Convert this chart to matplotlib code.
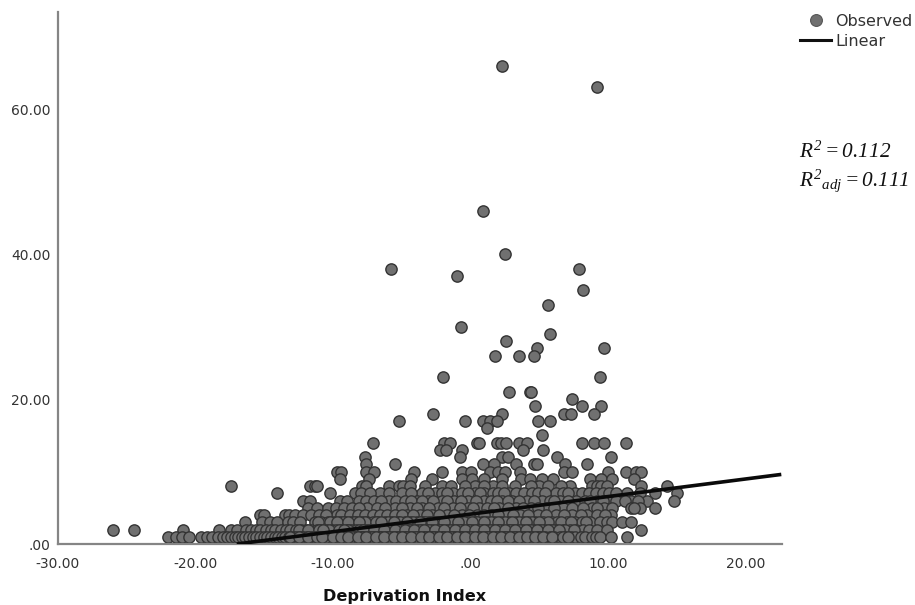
import matplotlib
matplotlib.use("Agg")
import matplotlib.pyplot as plt
from matplotlib.lines import Line2D
import numpy as np

plt.rcParams["mathtext.fontset"] = "custom"
plt.rcParams["mathtext.rm"] = "Liberation Serif:italic"
plt.rcParams["mathtext.it"] = "Liberation Serif:italic"

# x values (deprivation index) of the observed points, grouped by their integer y value
x_high = [2.3, 9.2, 0.9, 2.5, -5.8, -1.0, 7.9, 8.2, 5.6, -0.7, 5.8, 2.6, 9.7, 4.8, 3.5, 1.8, 4.6,
          -2.0, 9.4, 2.8, 4.3, 4.4, 7.4, 9.5, 8.1, 4.7, -2.7, 2.3, 6.8, 7.3, 9.0,
          -5.2, -0.4, 0.9, 1.4, 1.9, 4.9, 5.8, 1.2, 5.2]
y_high = [66, 63, 46, 40, 38, 37, 38, 35, 33, 30, 29, 28, 27, 27, 26, 26, 26,
          23, 23, 21, 21, 21, 20, 19, 19, 19, 18, 18, 18, 18, 18,
          17, 17, 17, 17, 17, 17, 17, 16, 15]

x_14 = [-7.1, -1.9, -1.5, 0.5, 0.6, 1.9, 2.25, 2.6, 3.5, 4.1, 8.1, 9.0, 9.7, 11.3]
x_13 = [-2.25, -1.75, -0.6, 3.85, 5.3]
x_12 = [-7.7, -0.8, 2.3, 2.7, 6.3, 10.2]
x_11 = [-7.6, -5.5, 0.9, 1.7, 3.3, 4.65, 4.8, 6.9, 8.5]
x_10 = [-9.7, -9.4, -7.6, -7.0, -4.1, -2.1, -0.65, 0.0, 1.4, 2.0, 2.5, 3.6, 6.8, 7.4, 10.0, 11.3, 12.0, 12.4]
x_9 = [-9.5, -7.35, -4.3, -2.8, -0.6, 0.1, 1.0, 2.3, 3.7, 4.3, 5.2, 6.0, 8.7, 9.5, 10.3, 11.9]
x_8 = [-17.4, -11.7, -11.3, -11.2, -7.9, -7.6, -5.9, -5.2, -4.9, -4.4, -2.1, -1.4, 0.3, 1.6, 5.0,
       7.2, 8.8, 9.2, 9.5, 9.9, 12.4, 14.3, -3.3, -0.4, 1.0, 2.3, 3.2, 4.4, 5.6, 6.6]
x_7 = [-14.1, -10.25, -8.4, -6.6, -5.9, -3.5, -2.6, -1.3, -0.65, 0.3, 1.0, 1.6, 2.8, 3.3, 3.9, 4.5,
       6.25, 6.7, 7.6, 11.4, 13.4, 15.0, -8.0, -7.3, -5.0, -4.3, -3.1, -2.1, -1.7, -0.2, 0.7, 2.0, 2.4,
       4.9, 5.4, 7.1, 8.1, 8.6, 9.1, 9.6, 10.1, 10.6, 12.3]
x_6 = [-12.2, -11.7, -8.1, -7.6, -5.9, -3.9, -3.1, -2.1, -1.2, -0.2, 1.0, 2.3, 3.0, 4.1, 5.2, 6.5, 7.7,
       9.2, 10.0, 10.6, 11.7, 12.8, 14.8, -9.5, -9.0, -7.0, -6.5, -5.4, -4.8, -4.3, -3.5, -2.7, -1.7,
       -0.7, 0.4, 1.5, 1.9, 2.7, 3.5, 4.6, 5.8, 6.1, 7.1, 8.3, 8.7, 9.6, 11.2, 12.2]
x_5 = [-11.85, -11.2, -10.4, -7.5, -6.8, -5.5, -4.4, -3.5, -2.4, -1.3, -0.2, 0.65, 2.1, 3.3, 4.4, 5.5,
       6.7, 7.4, 8.8, 9.7, 11.7, 12.3, 13.4, -9.8, -9.2, -8.6, -8.1, -6.2, -5.0, -3.9, -3.0, -1.9, -0.8,
       0.2, 1.2, 1.7, 2.7, 3.8, 4.9, 6.1, 8.2, 9.2, 10.3, 11.9]
x_4 = [-15.3, -15.0, -13.5, -13.2, -12.8, -12.2, -9.7, -9.4, -8.8, -8.2, -7.7, -7.1, -6.6, -6.1, -5.5,
       -4.65, -3.7, -2.8, -1.7, -0.6, 0.5, 1.5, 2.6, 3.6, 4.9, 6.25, 7.4, 8.5, 10.25, -11.6, -11.0, -10.5,
       -5.0, -4.2, -3.2, -2.3, -1.2, -0.1, 1.0, 2.0, 3.1, 4.2, 5.5, 6.8, 8.0, 9.2, 9.8]
x_3 = [-16.4, -15.2, -14.6, -14.1, -13.3, -12.9, -12.4, -11.3, -10.9, -10.4, -9.9, -9.5, -9.1, -8.7,
       -8.3, -7.9, -7.5, -7.1, -6.7, -6.2, -5.8, -5.3, -4.8, -4.4, -3.9, -3.5, -3.0, -2.6, -2.1, -1.6,
       -1.2, -0.7, -0.2, 0.3, 0.8, 1.2, 1.7, 2.2, 2.8, 3.3, 3.8, 4.2, 4.7, 5.3, 5.9, 6.3, 7.0, 7.6,
       8.1, 8.7, 9.4, 9.9, 10.3, 11.0, 11.7, -11.1, -10.2, -9.3, -8.5, -7.7, -6.9, -6.0, -5.1, -4.2,
       -3.3, -2.4, -1.4, -0.5, 0.5, 1.5, 2.5, 3.5, 4.5, 5.6, 6.6, 7.3, 8.4,
       -9.7, -8.9, -8.1, -6.5, -5.6, -4.6, -3.7, -2.8, -1.9, -0.9, 0.1, 1.0, 2.0, 3.0, 4.0, 5.0]
x_2 = [-26.0, -24.5, -20.9, -18.3, -17.4, -17.0, -16.3, -16.0, -15.6, -15.3, -14.9, -14.5, -14.2, -13.8,
       -13.4, -13.1, -12.7, -12.3, -12.0, -11.6, -11.2, -10.9, -10.5, -10.1, -9.8, -9.4, -9.0, -8.7,
       -8.3, -7.9, -7.6, -7.2, -6.8, -6.5, -6.1, -5.7, -5.4, -5.0, -4.6, -4.3, -3.9, -3.5, -3.2, -2.8,
       -2.4, -2.1, -1.7, -1.3, -1.0, -0.6, -0.2, 0.1, 0.5, 0.9, 1.2, 1.6, 2.0, 2.3, 2.7, 3.1, 3.4, 3.8,
       4.2, 4.6, 5.0, 5.4, 5.8, 6.2, 6.7, 7.2, 7.7, 8.2, 8.6, 9.2, 9.9, 12.4, -12.5, -11.8, -11.0, -10.3,
       -9.6, -8.9, -8.1, -7.4, -6.6, -5.9, -5.2, -4.4, -3.7, -3.0, -2.2, -1.5, -0.8, -0.1, 0.7, 1.4,
       2.1, 2.9, 3.6, 4.4, 5.2, 6.0, 6.9, 7.5, -10.7, -9.2, -7.8, -7.0, -6.3, -5.5, -4.8, -4.1, -3.4,
       -2.6, -1.9, -1.1, -0.4, 0.3, 1.0, 1.8, 2.5, 3.2, 4.0, 4.8, 5.6, 6.4]
x_1 = [-22.0, -21.4, -21.0, -20.5, -19.6, -19.2, -18.8, -18.4, -18.0, -17.7, -17.4, -17.1, -16.9, -16.6,
       -16.4, -16.1, -15.8, -15.6, -15.3, -15.0, -14.8, -14.5, -14.2, -14.0, -13.7, -13.5, -13.2, -12.9,
       -12.7, -12.4, -12.2, -11.9, -11.6, -11.4, -11.1, -10.9, -10.6, -10.3, -10.1, -9.8, -9.6, -9.3,
       -9.1, -8.8, -8.5, -8.3, -8.0, -7.8, -7.5, -7.3, -7.0, -6.7, -6.5, -6.2, -6.0, -5.7, -5.5, -5.2,
       -4.9, -4.7, -4.4, -4.2, -3.9, -3.7, -3.4, -3.1, -2.9, -2.6, -2.4, -2.1, -1.9, -1.6, -1.3, -1.1,
       -0.8, -0.6, -0.3, -0.1, 0.2, 0.5, 0.7, 1.0, 1.2, 1.5, 1.7, 2.0, 2.3, 2.5, 2.8, 3.0, 3.3, 3.6,
       3.9, 4.2, 4.5, 4.8, 5.1, 5.4, 5.8, 6.1, 6.5, 6.9, 7.3, 7.6, 8.0, 8.3, 8.8, 9.1, 9.4, 10.2, 11.4,
       -13.1, -12.5, -11.8, -11.2, -10.5, -9.9, -9.2, -8.6, -7.9, -7.2, -6.6, -5.9, -5.3, -4.6, -4.0,
       -3.3, -2.7, -2.0, -1.4, -0.7, 0.0, 0.6, 1.3, 1.9, 2.6, 3.2, 3.8, 4.4, 5.0,
       -10.8, -10.0, -9.4, -8.9, -8.2, -7.6, -6.9, -6.3, -5.6, -5.0, -4.3, -3.6, -3.0, -2.3, -1.7, -1.0,
       -0.4, 0.3, 0.9, 1.6, 2.2, 2.9, 3.5, 4.1, 4.7, 5.3, 5.9, 6.7, 7.1]

low_levels = [(14, x_14), (13, x_13), (12, x_12), (11, x_11), (10, x_10), (9, x_9), (8, x_8), (7, x_7),
              (6, x_6), (5, x_5), (4, x_4), (3, x_3), (2, x_2), (1, x_1)]

line_x = [-17.0, 22.6]
line_y = [0.0, 9.6]

x_ticks = [-30, -20, -10, 0, 10, 20]
x_tick_labels = ["-30.00", "-20.00", "-10.00", ".00", "10.00", "20.00"]
y_ticks = [0, 20, 40, 60]
y_tick_labels = [".00", "20.00", "40.00", "60.00"]

W, H = 915, 605
GREY = "#707070"
EDGE = "#333333"
AXIS = "#858585"
TEXT = "#333333"

xs = np.array(x_high + [v for _, vals in low_levels for v in vals])
ys = np.array(y_high + [lev for lev, vals in low_levels for _ in vals])

fig = plt.figure(figsize=(W / 100, H / 100), dpi=100)
ax = fig.add_axes([58 / W, (H - 544) / H, (781.7 - 58) / W, (544 - 12) / H])

ax.scatter(xs, ys, s=66, color=GREY, edgecolors=EDGE, linewidths=1.0, clip_on=False, zorder=2)
ax.plot(line_x, line_y, color="#0a0a0a", linewidth=2.6, solid_capstyle="butt", zorder=3)

ax.set_xlim(-30, 22.63)
ax.set_ylim(0, 73.4)
ax.set_xticks(x_ticks, x_tick_labels)
ax.set_yticks(y_ticks, y_tick_labels)
ax.tick_params(axis="y", length=0, labelsize=10, labelcolor=TEXT, pad=5.5)
ax.tick_params(axis="x", length=0, labelsize=10, labelcolor=TEXT, pad=9)
for side in ("top", "right"):
    ax.spines[side].set_visible(False)
for side in ("left", "bottom"):
    ax.spines[side].set_color(AXIS)
    ax.spines[side].set_linewidth(1.6)

fig.text(405 / W, (H - 596) / H, "Deprivation Index", fontsize=11.6, fontweight="bold",
         color="#111111", ha="center", va="center")

handles = [
    Line2D([], [], linestyle="none", marker="o", markersize=8.5, markerfacecolor=GREY, markeredgecolor="#555555",
           markeredgewidth=0.8),
    Line2D([], [], color="#111111", linewidth=2.2),
]
fig.legend(handles, ["Observed", "Linear"], loc="upper left", bbox_to_anchor=(800 / W, (H - 14) / H),
           frameon=False, fontsize=11.5, labelcolor=TEXT, handlelength=1.95, handletextpad=0.25,
           labelspacing=0.3, borderpad=0, borderaxespad=0)

fig.text(799 / W, (H - 158) / H, r"$R^2{=}0.112$", fontsize=15.3, color="#111111")
fig.text(799 / W, (H - 186) / H, r"$R^2{}_{adj}{=}0.111$", fontsize=15.3, color="#111111")

fig.savefig("out.png", dpi=100)
plt.close(fig)
